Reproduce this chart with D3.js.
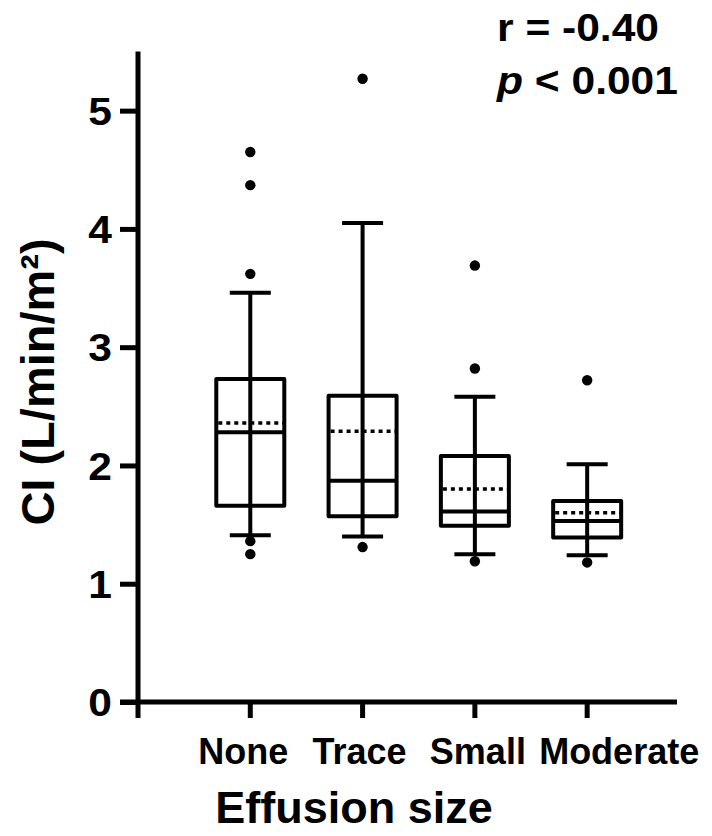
<!DOCTYPE html>
<html>
<head>
<meta charset="utf-8">
<script src="https://cdn.jsdelivr.net/npm/d3@7"></script>
<style>
  html, body { margin: 0; padding: 0; background: #fff; }
  svg { display: block; }
  text { font-family: "Liberation Sans", Arial, sans-serif; font-weight: bold; fill: #000; }
</style>
</head>
<body>
<svg id="chart" width="712" height="836"></svg>
<script>
// Cardiac index by effusion size: box (Q1–Q3), median, mean (dotted), whiskers, outliers
const categories   = ["None", "Trace", "Small", "Moderate"];
const whiskerLow   = [1.41, 1.40, 1.25, 1.24];
const q1           = [1.66, 1.57, 1.49, 1.39];
const medians      = [2.28, 1.87, 1.61, 1.53];
const means        = [2.36, 2.29, 1.80, 1.60];
const q3           = [2.73, 2.59, 2.08, 1.70];
const whiskerHigh  = [3.46, 4.05, 2.58, 2.01];
const outliers     = [
  [1.25, 1.36, 3.62, 4.37, 4.65],
  [1.31, 5.27],
  [1.19, 2.82, 3.69],
  [1.18, 2.72]
];
const yTicks = [0, 1, 2, 3, 4, 5];
const yTitle = "CI (L/min/m²)";
const xTitle = "Effusion size";
const statR = "r = -0.40";
const statP = "< 0.001";

const svg = d3.select("#chart");

const x = d3.scaleLinear().domain([0, 4.8]).range([138, 677]);
const y = d3.scaleLinear().domain([0, 5.5]).range([702, 51.5]);
const xc = i => x(i + 1);

const boxW = 68, capW = 41, lw = 4;
const wide = 1.12; // slightly widened bold lettering

// Axes
const yAxis = d3.axisLeft(y).tickValues(yTicks).tickSize(18).tickPadding(8).tickFormat(d3.format("d"));
const gy = svg.append("g").attr("transform", `translate(${x(0)},0)`).call(yAxis);
gy.select(".domain").remove();
gy.selectAll(".tick line").attr("stroke", "#000").attr("stroke-width", 5);
gy.selectAll(".tick text")
  .style("font-size", "38px").attr("dy", "0.36em")
  .attr("x", -26 / wide)
  .attr("transform", `scale(${wide},1)`);
svg.append("line")
  .attr("x1", x(0)).attr("x2", x(0))
  .attr("y1", y(5.5)).attr("y2", y(0) + 16)
  .attr("stroke", "#000").attr("stroke-width", 5);

svg.append("line")
  .attr("x1", x(0) - 18).attr("x2", x(4.8))
  .attr("y1", y(0)).attr("y2", y(0))
  .attr("stroke", "#000").attr("stroke-width", 5);

const gx = svg.append("g");
gx.selectAll("line.xt").data(categories).join("line")
  .attr("class", "xt")
  .attr("x1", (d, i) => xc(i)).attr("x2", (d, i) => xc(i))
  .attr("y1", y(0)).attr("y2", y(0) + 16)
  .attr("stroke", "#000").attr("stroke-width", 5);

const labelShift = [-7, -3, 3, 32];
gx.selectAll("text.xl").data(categories).join("text")
  .attr("class", "xl")
  .attr("x", (d, i) => xc(i) + labelShift[i])
  .attr("y", 764)
  .attr("text-anchor", "middle")
  .style("font-size", "36px")
  .text(d => d);

svg.append("text")
  .attr("x", 354).attr("y", 823)
  .attr("text-anchor", "middle")
  .style("font-size", "45px")
  .text(xTitle);

svg.append("text")
  .attr("transform", "translate(54,382) rotate(-90)")
  .attr("text-anchor", "middle")
  .style("font-size", "47px")
  .text(yTitle);

// Statistics annotation
const stats = svg.append("g").attr("transform", `translate(497,0) scale(${wide},1)`);
stats.append("text").attr("x", 0).attr("y", 41).style("font-size", "38px").text(statR);
const pt = stats.append("text").attr("x", 0).attr("y", 94).style("font-size", "38px");
pt.append("tspan").style("font-style", "italic").text("p");
pt.append("tspan").text(" " + statP);

// Boxes
const g = svg.append("g").attr("stroke", "#000").attr("stroke-width", lw).attr("fill", "none");
categories.forEach((c, i) => {
  const cx = xc(i);
  // whisker stem
  g.append("line").attr("x1", cx).attr("x2", cx).attr("y1", y(whiskerLow[i])).attr("y2", y(whiskerHigh[i]));
  // caps
  [whiskerLow[i], whiskerHigh[i]].forEach(v => {
    g.append("line").attr("x1", cx - capW / 2).attr("x2", cx + capW / 2).attr("y1", y(v)).attr("y2", y(v));
  });
  // box
  g.append("rect").attr("x", cx - boxW / 2).attr("width", boxW)
    .attr("y", y(q3[i])).attr("height", y(q1[i]) - y(q3[i]))
    .attr("fill", "none").attr("stroke-linejoin", "round");
  // median
  g.append("line").attr("x1", cx - boxW / 2).attr("x2", cx + boxW / 2).attr("y1", y(medians[i])).attr("y2", y(medians[i]));
  // mean
  g.append("line").attr("x1", cx - boxW / 2 + 2).attr("x2", cx + boxW / 2).attr("y1", y(means[i])).attr("y2", y(means[i]))
    .attr("stroke-width", 3.5).attr("stroke-dasharray", "4,4");
  // outliers
  svg.selectAll(null).data(outliers[i]).join("circle")
    .attr("cx", cx).attr("cy", d => y(d)).attr("r", 5.2).attr("fill", "#000");
});
</script>
</body>
</html>
